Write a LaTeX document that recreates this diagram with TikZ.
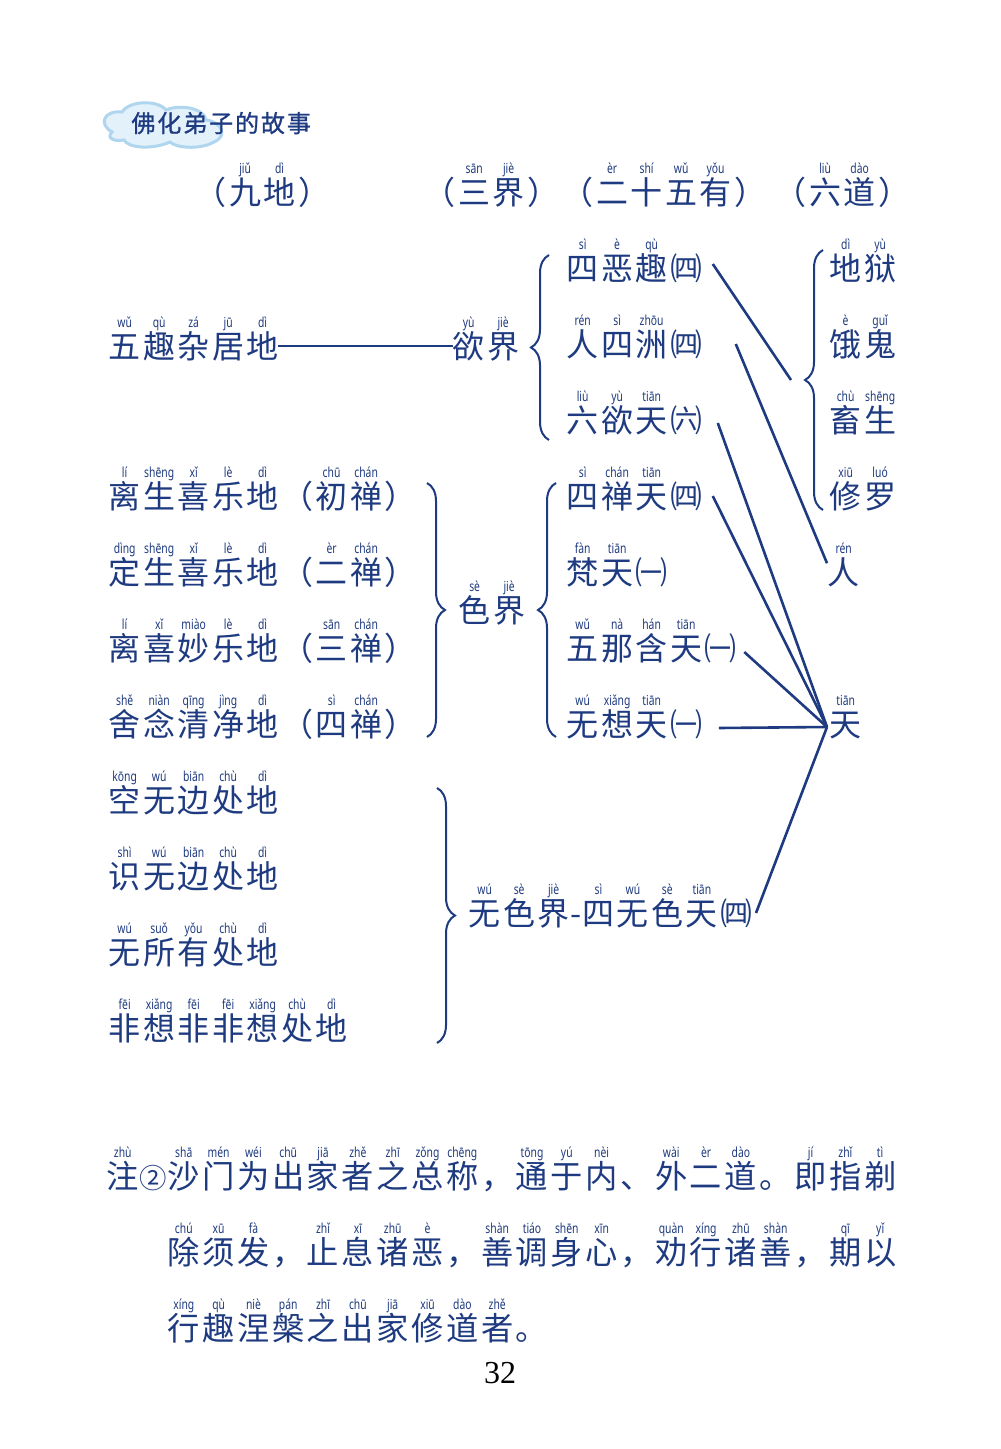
\documentclass[tikz,border=0pt]{standalone}
\usepackage{fontspec}
\setmainfont{Noto Sans CJK SC}
\newfontfamily\pyfont[FakeStretch=0.75]{Noto Sans}
\newfontfamily\titlefont[LetterSpace=8,FakeBold=1]{Noto Sans CJK SC}
\newfontfamily\numfont{Liberation Serif}
\usepackage[HTML]{xcolor}
\usepackage{graphicx}
\usepackage{tikz}
\usetikzlibrary{decorations.pathreplacing}

\definecolor{ink}{HTML}{1E3A80}
\definecolor{yun}{HTML}{E3F1FA}
\definecolor{yunbian}{HTML}{AFD6EE}

% character cell with its pinyin above
\newcommand\zy[2]{\rlap{\makebox[1.078em]{\smash{\raisebox{15.2pt}{\pyfont\fontsize{6.9}{7}\selectfont #2}}}}\makebox[1.078em]{#1}}
% cell without pinyin
\newcommand\bd[1]{\makebox[1.078em]{#1}}

\begin{document}
\begin{tikzpicture}[x=0.5pt,y=-0.5pt,
  zi/.style={inner sep=0pt, anchor=west, text=ink, text height=13.3pt, text depth=1.1pt, font=\fontsize{16}{20}\selectfont},
  zhu/.style={zi, text height=13.4pt, font=\fontsize{16.15}{20}\selectfont},
  xian/.style={draw=ink, line width=1.3pt},
  kuo/.style={draw=ink, line width=1pt, decorate, decoration={brace, amplitude=9pt}}]
\fill[white] (0,0) rectangle (1000,1449);
\useasboundingbox (0,0) rectangle (1000,1449);

% Title with cloud
\draw[yunbian, fill=yun, line width=1.5pt]
  (112,132) .. controls (98,124) and (104,110) .. (122,112)
  .. controls (130,100) and (158,100) .. (166,110)
  .. controls (180,104) and (204,108) .. (206,120)
  .. controls (222,122) and (228,136) .. (214,142)
  .. controls (200,150) and (176,148) .. (170,142)
  .. controls (152,150) and (128,148) .. (124,140)
  .. controls (114,142) and (106,138) .. (112,132) -- cycle;
\node[inner sep=0pt, anchor=west, text=ink, text height=10pt, text depth=0.8pt,
  font=\titlefont\fontsize{12}{14}\selectfont] (biaoti) at (131,123) {佛化弟子的故事};

% Column heads
\node[zi] (jiudi) at (193,192) {\bd{（}\zy{九}{jiǔ}\zy{地}{dì}\bd{）}};
\node[zi] (sanjie) at (422,192) {\bd{（}\zy{三}{sān}\zy{界}{jiè}\bd{）}};
\node[zi] (ershiwu) at (560,192) {\bd{（}\zy{二}{èr}\zy{十}{shí}\zy{五}{wǔ}\zy{有}{yǒu}\bd{）}};
\node[zi] (liudao) at (773,192) {\bd{（}\zy{六}{liù}\zy{道}{dào}\bd{）}};

% Nine grounds
\node[zi] (wuqu) at (107,346) {\zy{五}{wǔ}\zy{趣}{qù}\zy{杂}{zá}\zy{居}{jū}\zy{地}{dì}};
\node[zi] (chuchan) at (107,496) {\zy{离}{lí}\zy{生}{shēng}\zy{喜}{xǐ}\zy{乐}{lè}\zy{地}{dì}\bd{（}\zy{初}{chū}\zy{禅}{chán}\bd{）}};
\node[zi] (erchan) at (107,572) {\zy{定}{dìng}\zy{生}{shēng}\zy{喜}{xǐ}\zy{乐}{lè}\zy{地}{dì}\bd{（}\zy{二}{èr}\zy{禅}{chán}\bd{）}};
\node[zi] (sanchan) at (107,648) {\zy{离}{lí}\zy{喜}{xǐ}\zy{妙}{miào}\zy{乐}{lè}\zy{地}{dì}\bd{（}\zy{三}{sān}\zy{禅}{chán}\bd{）}};
\node[zi] (sichandi) at (107,724) {\zy{舍}{shě}\zy{念}{niàn}\zy{清}{qīng}\zy{净}{jìng}\zy{地}{dì}\bd{（}\zy{四}{sì}\zy{禅}{chán}\bd{）}};
\node[zi] (kongwu) at (107,800) {\zy{空}{kōng}\zy{无}{wú}\zy{边}{biān}\zy{处}{chù}\zy{地}{dì}};
\node[zi] (shiwu) at (107,876) {\zy{识}{shì}\zy{无}{wú}\zy{边}{biān}\zy{处}{chù}\zy{地}{dì}};
\node[zi] (wusuo) at (107,952) {\zy{无}{wú}\zy{所}{suǒ}\zy{有}{yǒu}\zy{处}{chù}\zy{地}{dì}};
\node[zi] (feixiang) at (107,1028) {\zy{非}{fēi}\zy{想}{xiǎng}\zy{非}{fēi}\zy{非}{fēi}\zy{想}{xiǎng}\zy{处}{chù}\zy{地}{dì}};

% Three realms
\node[zi] (yujie) at (451,346) {\zy{欲}{yù}\zy{界}{jiè}};
\node[zi] (sejie) at (457,610) {\zy{色}{sè}\zy{界}{jiè}};
\node[zi] (wusejie) at (467,913) {\zy{无}{wú}\zy{色}{sè}\zy{界}{jiè}\makebox[0.32em]{-}\zy{四}{sì}\zy{无}{wú}\zy{色}{sè}\zy{天}{tiān}\bd{㈣}};
\draw[xian] ([xshift=-1pt]wuqu.east) -- ([xshift=1pt]yujie.west);

% Twenty-five existences
\node[zi] (sie) at (565,268) {\zy{四}{sì}\zy{恶}{è}\zy{趣}{qù}\bd{㈣}};
\node[zi] (renzhou) at (565,344) {\zy{人}{rén}\zy{四}{sì}\zy{洲}{zhōu}\bd{㈣}};
\node[zi] (liuyu) at (565,420) {\zy{六}{liù}\zy{欲}{yù}\zy{天}{tiān}\bd{㈥}};
\node[zi] (sichan) at (565,496) {\zy{四}{sì}\zy{禅}{chán}\zy{天}{tiān}\bd{㈣}};
\node[zi] (fantian) at (565,572) {\zy{梵}{fàn}\zy{天}{tiān}\bd{㈠}};
\node[zi] (wuna) at (565,648) {\zy{五}{wǔ}\zy{那}{nà}\zy{含}{hán}\zy{天}{tiān}\bd{㈠}};
\node[zi] (wuxiang) at (565,724) {\zy{无}{wú}\zy{想}{xiǎng}\zy{天}{tiān}\bd{㈠}};

% Six paths
\node[zi] (diyu) at (828,268) {\zy{地}{dì}\zy{狱}{yù}};
\node[zi] (egui) at (828,344) {\zy{饿}{è}\zy{鬼}{guǐ}};
\node[zi] (chusheng) at (828,420) {\zy{畜}{chù}\zy{生}{shēng}};
\node[zi] (xiuluo) at (828,496) {\zy{修}{xiū}\zy{罗}{luó}};
\node[zi] (ren) at (826,572) {\zy{人}{rén}};
\node[zi] (tian) at (828,724) {\zy{天}{tiān}};

% Braces
\draw[kuo] (549,440) -- (549,255);
\draw[kuo] (427,483) -- (427,737);
\draw[kuo] (556,737) -- (556,483);
\draw[kuo] (437,788) -- (437,1043);
\draw[kuo] (823,510) -- (823,250);
\coordinate (daotip) at (805,380);
\coordinate (tianjiao) at ([xshift=-0.5pt,yshift=-1.5pt]tian.west);

% Connectors
\draw[xian] ([xshift=4.5pt,yshift=2pt]sie.east) -- ([xshift=-7pt]daotip);
\draw[xian] ([xshift=16pt]renzhou.east) -- ([xshift=0.5pt,yshift=-3pt]ren.north west);
\draw[xian] ([xshift=7pt,yshift=-1.5pt]liuyu.east) -- (tianjiao);
\draw[xian] ([xshift=4.5pt]sichan.east) -- (tianjiao);
\draw[xian] ([xshift=3pt,yshift=-2pt]wuna.east) -- (tianjiao);
\draw[xian] ([xshift=7.5pt,yshift=-2pt]wuxiang.east) -- (tianjiao);
\draw[xian] ([xshift=1pt]wusejie.east) -- (tianjiao);

% Note
\node[zhu] (zhu1) at (105,1176) {\zy{注}{zhù}\makebox[0.81em]{\scalebox{0.85}{②}}\zy{沙}{shā}\zy{门}{mén}\zy{为}{wéi}\zy{出}{chū}\zy{家}{jiā}\zy{者}{zhě}\zy{之}{zhī}\zy{总}{zǒng}\zy{称}{chēng}\bd{，}\zy{通}{tōng}\zy{于}{yú}\zy{内}{nèi}\bd{、}\zy{外}{wài}\zy{二}{èr}\zy{道}{dào}\bd{。}\zy{即}{jí}\zy{指}{zhǐ}\zy{剃}{tì}};
\node[zhu] (zhu2) at (166,1252) {\zy{除}{chú}\zy{须}{xū}\zy{发}{fà}\bd{，}\zy{止}{zhǐ}\zy{息}{xī}\zy{诸}{zhū}\zy{恶}{è}\bd{，}\zy{善}{shàn}\zy{调}{tiáo}\zy{身}{shēn}\zy{心}{xīn}\bd{，}\zy{劝}{quàn}\zy{行}{xíng}\zy{诸}{zhū}\zy{善}{shàn}\bd{，}\zy{期}{qī}\zy{以}{yǐ}};
\node[zhu] (zhu3) at (166,1328) {\zy{行}{xíng}\zy{趣}{qù}\zy{涅}{niè}\zy{槃}{pán}\zy{之}{zhī}\zy{出}{chū}\zy{家}{jiā}\zy{修}{xiū}\zy{道}{dào}\zy{者}{zhě}\bd{。}};
\node[inner sep=0pt, font=\numfont\fontsize{16}{18}\selectfont] (yema) at (500,1373) {32};
\end{tikzpicture}
\end{document}
